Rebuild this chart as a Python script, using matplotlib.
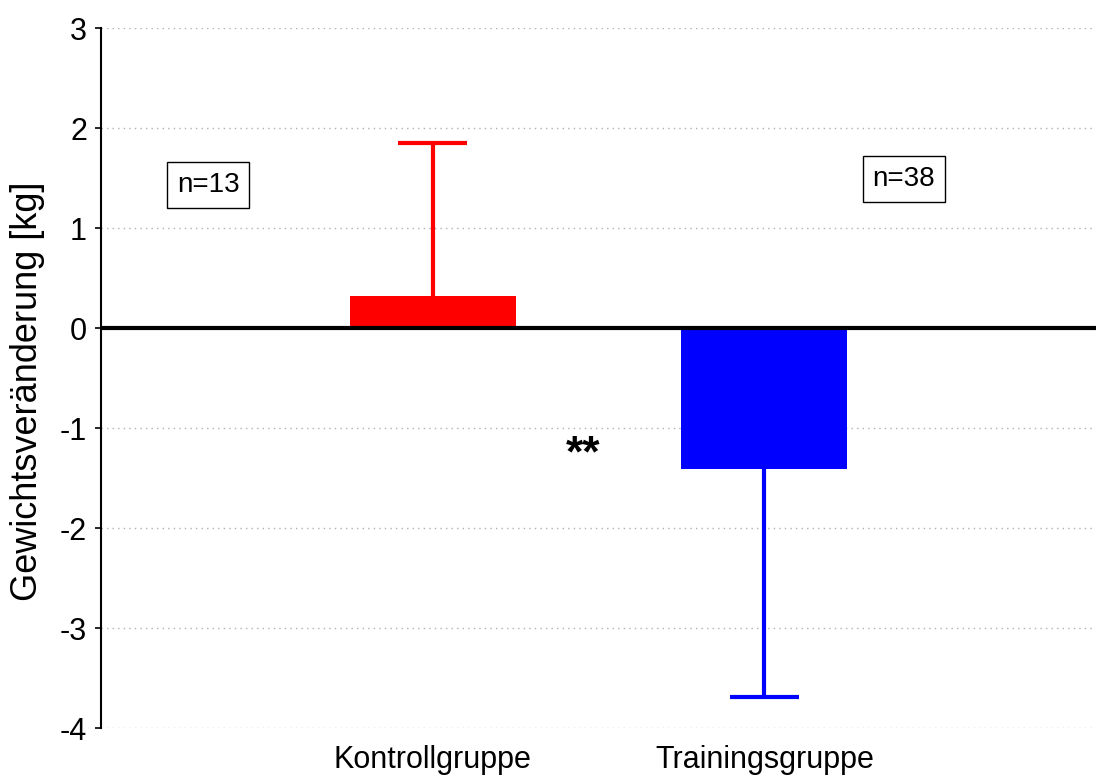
import matplotlib
matplotlib.use("Agg")
import matplotlib.pyplot as plt

plt.rcParams['font.family'] = ['Liberation Sans', 'DejaVu Sans']
plt.rcParams['axes.unicode_minus'] = False

# Gewichtsveränderung je Gruppe
groups = ['Kontrollgruppe', 'Trainingsgruppe']
means = [0.32, -1.41]
sds = [1.53, 2.28]
colors = ['#ff0000', '#0000ff']
n_labels = ['n=13', 'n=38']
n_pos = [(-0.676, 1.43), (1.42, 1.49)]

fig = plt.figure(figsize=(10.96, 7.8), dpi=100)
ax = fig.add_axes([101 / 1096, 1 - 728 / 780, 1 - 101 / 1096, 700 / 780])

x = list(range(len(groups)))
ax.bar(x, means, width=0.5, color=colors, zorder=3)

# one-sided error bars, pointing away from zero, cap only at the far end
cap_half = 0.105
for xi, m, s, c in zip(x, means, sds, colors):
    end = m + s if m >= 0 else m - s
    ax.vlines(xi, m, end, color=c, lw=3, zorder=2)
    ax.hlines(end, xi - cap_half, xi + cap_half, color=c, lw=3, zorder=2)

ax.axhline(0, color='black', lw=3, zorder=4)

for (tx, ty), lab in zip(n_pos, n_labels):
    ax.text(tx, ty, lab, fontsize=20, ha='center', va='center',
            bbox=dict(boxstyle='square,pad=0.35', fc='white', ec='black', lw=1))

ax.text(0.453, -1.27, '**', fontsize=32, fontweight='bold', ha='center', va='center')

ax.set_xlim(-1, 2)
ax.set_ylim(-4, 3)
ax.set_yticks(range(-4, 4))
ax.set_xticks(x)
ax.set_xticklabels(groups, fontsize=22)
ax.tick_params(axis='y', labelsize=22, length=4, width=1.2, pad=6)
ax.tick_params(axis='x', length=0, pad=12)
ax.yaxis.grid(True, linestyle=(0, (1, 3)), color='#b0b0b0', lw=1)
ax.set_axisbelow(True)

for side in ['top', 'right', 'bottom']:
    ax.spines[side].set_visible(False)
ax.spines['left'].set_linewidth(1.5)

fig.text(28 / 1096, 1 - 391 / 780, 'Gewichtsveränderung [kg]', rotation=90,
         fontsize=26, ha='center', va='center')

fig.savefig('out.png', dpi=100)
